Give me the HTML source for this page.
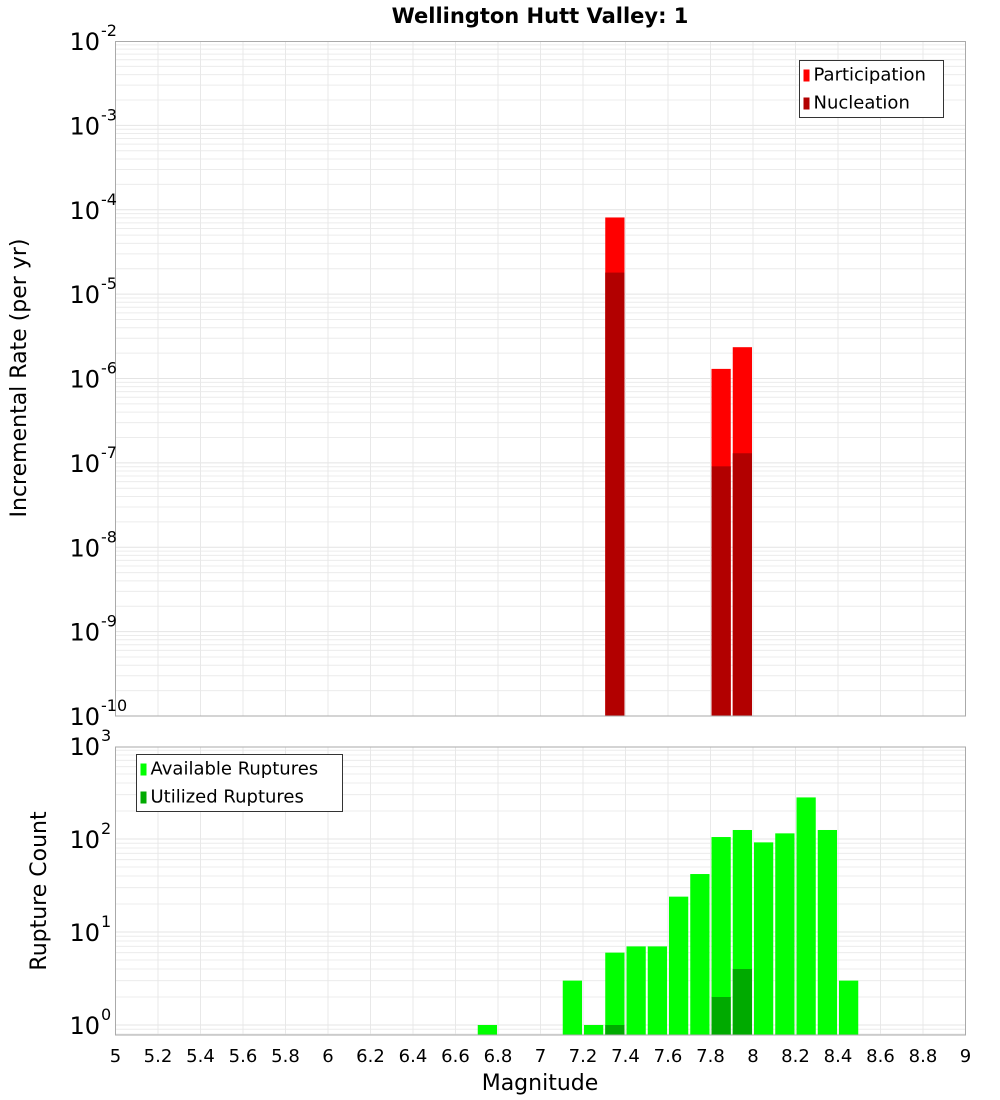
<!DOCTYPE html>
<html><head><meta charset="utf-8"><style>
body{margin:0;background:#fff}
svg{display:block;font-family:"DejaVu Sans","Liberation Sans",sans-serif}
</style></head><body>
<svg id="chart" width="1000" height="1100">
<text x="540" y="23" text-anchor="middle" font-size="21" font-weight="bold">Wellington Hutt Valley: 1</text>
<g id="topPlot"></g>
<g id="botPlot"></g>
<text transform="translate(26,378) rotate(-90)" text-anchor="middle" font-size="22">Incremental Rate (per yr)</text>
<text transform="translate(46,891) rotate(-90)" text-anchor="middle" font-size="22">Rupture Count</text>
<text x="540" y="1090" text-anchor="middle" font-size="22">Magnitude</text>
</svg>
<script>
const binCenters=[7.35,7.85,7.95];
const participation=[8.1e-5,1.3e-6,2.35e-6];
const nucleation=[1.8e-5,9.1e-8,1.3e-7];
const countBins=[6.75,7.15,7.25,7.35,7.45,7.55,7.65,7.75,7.85,7.95,8.05,8.15,8.25,8.35,8.45];
const available=[1,3,1,6,7,7,24,42,105,125,92,115,280,125,3];
const utilized=[0,0,0,1,0,0,0,0,2,4,0,0,0,0,0];
const xTicks=[5,5.2,5.4,5.6,5.8,6,6.2,6.4,6.6,6.8,7,7.2,7.4,7.6,7.8,8,8.2,8.4,8.6,8.8,9];
const topExps=[-2,-3,-4,-5,-6,-7,-8,-9,-10];
const botExps=[3,2,1,0];

const NS='http://www.w3.org/2000/svg';
const X0=115.5,X1=965.5;
const x=m=>X0+(m-5)/4*(X1-X0);
const topY=v=>716-(Math.log10(v)+10)*84.375;
const botY=v=>1025-Math.log10(v)*93;
function el(p,t,a){const e=document.createElementNS(NS,t);for(const k in a)e.setAttribute(k,a[k]);p.appendChild(e);return e;}

function frame(g,yTop,yBot,yf,lo,hi){
  el(g,'rect',{x:X0,y:yTop,width:X1-X0,height:yBot-yTop,fill:'#fff'});
  for(let d=lo;d<hi;d++)for(let k=1;k<10;k++){const yy=yf(k*Math.pow(10,d));if(yy<yTop||yy>yBot)continue;
    const l=el(g,'line',{x1:X0,x2:X1,y1:yy,y2:yy,stroke:k==1?'#e4e4e4':'#ececec','stroke-width':1});
    
    }
  xTicks.forEach(t=>{const l=el(g,'line',{x1:x(t),x2:x(t),y1:yTop,y2:yBot,stroke:'#e8e8e8'});
    
    });
}
function yLabel(g,yy,e){
  const t=el(g,'text',{x:100,y:yy+9,'text-anchor':'end','font-size':24});t.textContent='10';
  
  
  const s=el(g,'text',{x:101,y:yy-5,'font-size':16});s.textContent=String(e);
  
  
}
const gTop=document.getElementById('topPlot'),gBot=document.getElementById('botPlot');
frame(gTop,41.5,716,topY,-10,-2);
frame(gBot,747,1035,botY,-1,3);
const bw=x(5.1)-x(5)-2;
binCenters.forEach((m,i)=>{
  const r=el(gTop,'rect',{x:x(m)-bw/2,y:topY(participation[i]),width:bw,height:716-topY(participation[i]),fill:'#ff0000'});
  
  
  const n=el(gTop,'rect',{x:x(m)-bw/2,y:topY(nucleation[i]),width:bw,height:716-topY(nucleation[i]),fill:'#b20000'});
  
  
});
countBins.forEach((m,i)=>{
  const r=el(gBot,'rect',{x:x(m)-bw/2,y:botY(available[i]),width:bw,height:1035-botY(available[i]),fill:'#00ff00'});
  
  
  if(utilized[i]>0){const u=el(gBot,'rect',{x:x(m)-bw/2,y:botY(utilized[i]),width:bw,height:1035-botY(utilized[i]),fill:'#00aa00'});
    
    }
});
el(gTop,'rect',{x:X0,y:41.5,width:X1-X0,height:716-41.5,fill:'none',stroke:'#aaa'});
el(gBot,'rect',{x:X0,y:747,width:X1-X0,height:288,fill:'none',stroke:'#aaa'});
topExps.forEach(e=>yLabel(gTop,topY(Math.pow(10,e)),e));
botExps.forEach(e=>yLabel(gBot,botY(Math.pow(10,e)),e));
xTicks.forEach(t=>{const s=el(gBot,'text',{x:x(t),y:1062,'text-anchor':'middle','font-size':18});s.textContent=String(t);
  
  });
function legend(g,lx,ly,w,items){
  const b=el(g,'rect',{x:lx,y:ly,width:w,height:57,fill:'#fff',stroke:'#333'});
  
  
  items.forEach((it,i)=>{
    el(g,'rect',{x:lx+4,y:ly+9+i*28,width:6,height:12,fill:it[1]});
    const t=el(g,'text',{x:lx+14,y:ly+20+i*28,'font-size':18});t.textContent=it[0];
    
    
  });
}
legend(gTop,799.5,60.5,144,[['Participation','#ff0000'],['Nucleation','#b20000']]);
legend(gBot,136.5,754.5,206,[['Available Ruptures','#00ff00'],['Utilized Ruptures','#00aa00']]);
</script>
</body></html>
